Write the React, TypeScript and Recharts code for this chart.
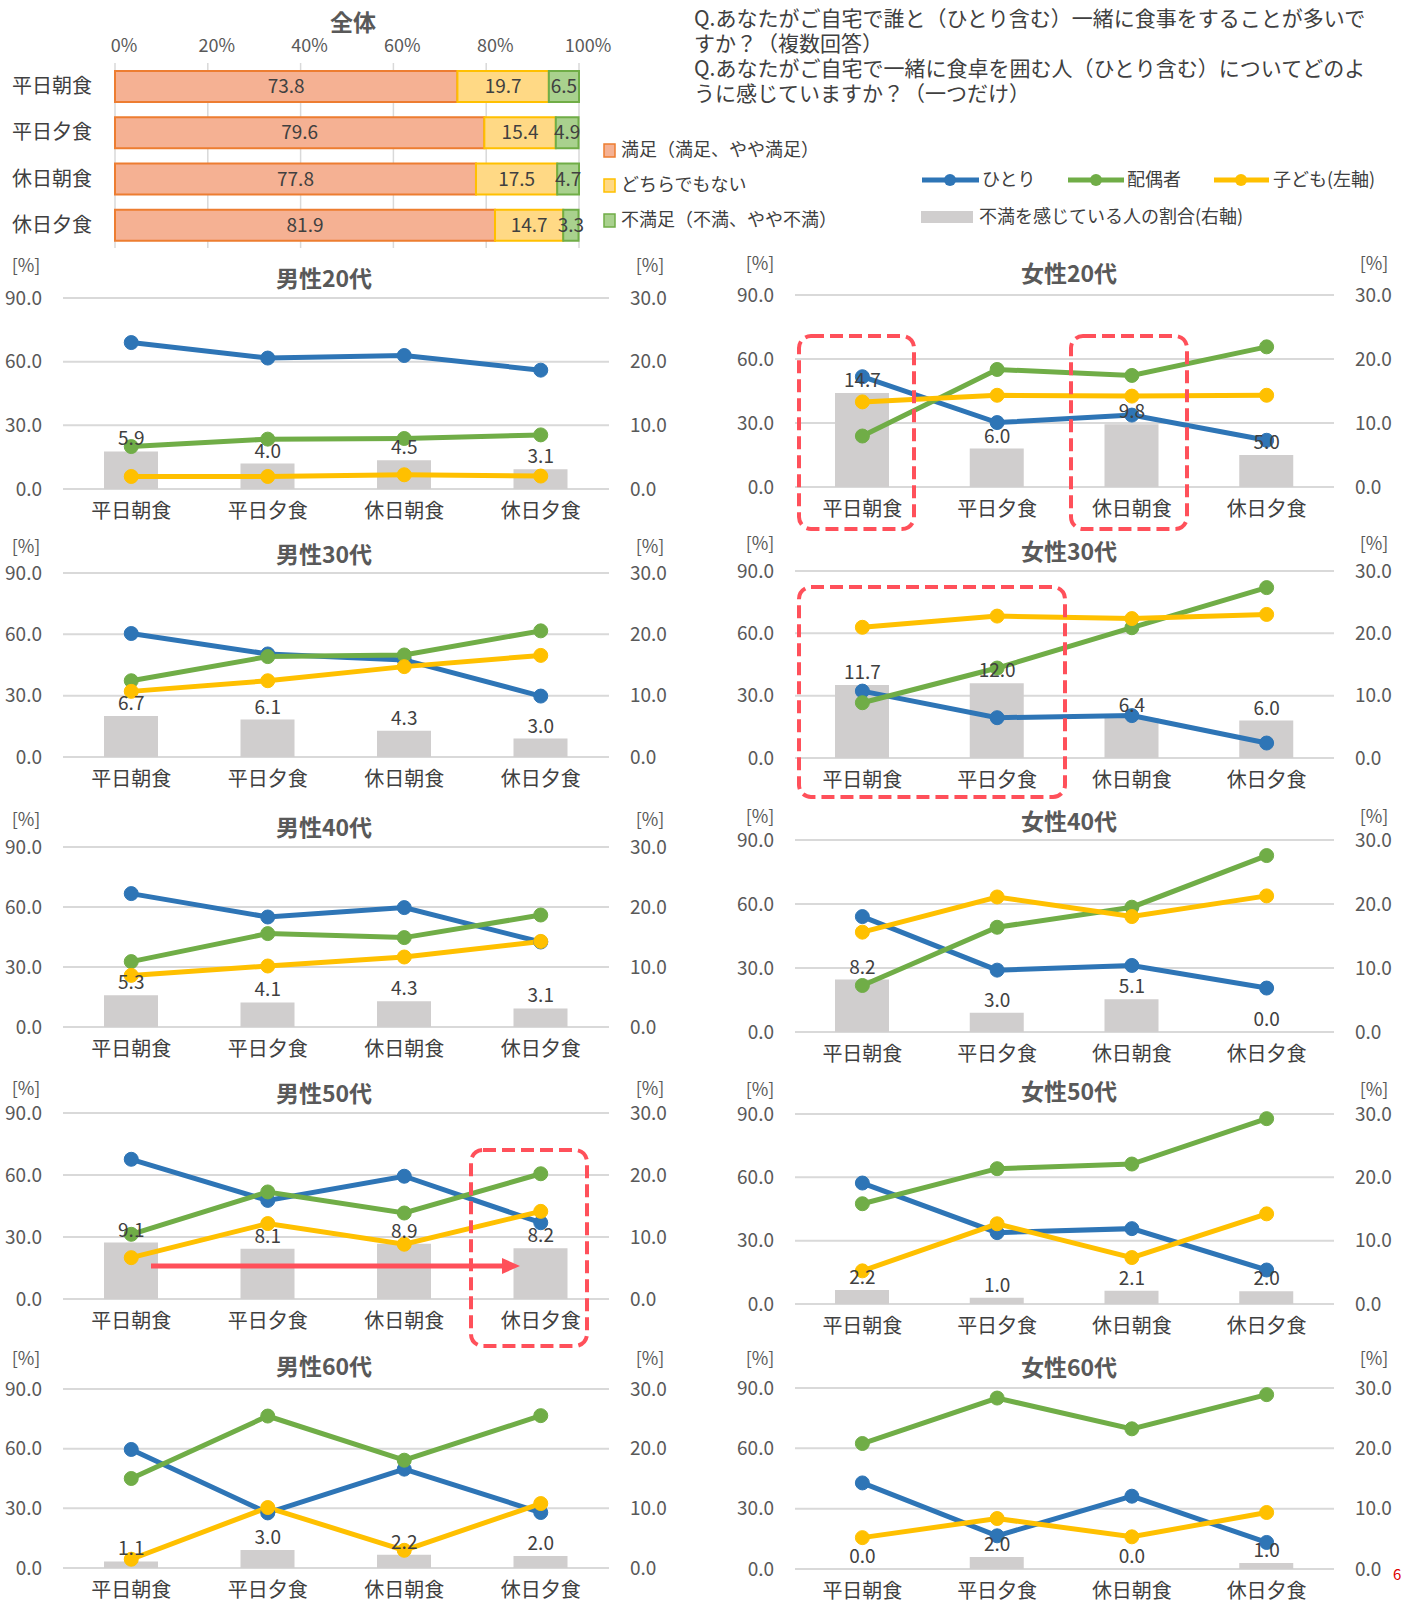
import React from "react";
import {
  ComposedChart,
  BarChart,
  Bar,
  Line,
  XAxis,
  YAxis,
  CartesianGrid,
  LabelList,
} from "recharts";

const meals = ["平日朝食", "平日夕食", "休日朝食", "休日夕食"];

// 全体（満足度）
const satisfied = [73.8, 79.6, 77.8, 81.9];
const neutral = [19.7, 15.4, 17.5, 14.7];
const dissatisfied = [6.5, 4.9, 4.7, 3.3];

// 男性
const m20Alone = [69.0, 61.7, 62.9, 56.0];
const m20Spouse = [20.0, 23.5, 23.8, 25.5];
const m20Child = [5.9, 5.9, 6.7, 6.1];
const m20Unhappy = [5.9, 4.0, 4.5, 3.1];

const m30Alone = [60.4, 50.4, 47.5, 29.8];
const m30Spouse = [37.3, 49.1, 49.9, 61.7];
const m30Child = [32.1, 37.3, 44.2, 49.7];
const m30Unhappy = [6.7, 6.1, 4.3, 3.0];

const m40Alone = [66.7, 55.0, 59.7, 42.5];
const m40Spouse = [32.7, 46.7, 44.7, 56.0];
const m40Child = [25.8, 30.5, 35.0, 42.8];
const m40Unhappy = [5.3, 4.1, 4.3, 3.1];

const m50Alone = [67.6, 47.7, 59.4, 36.9];
const m50Spouse = [31.3, 51.8, 41.6, 60.6];
const m50Child = [20.0, 36.5, 26.5, 42.4];
const m50Unhappy = [9.1, 8.1, 8.9, 8.2];

const m60Alone = [59.6, 27.7, 49.7, 27.9];
const m60Spouse = [45.0, 76.4, 54.2, 76.6];
const m60Child = [4.4, 30.4, 8.9, 32.4];
const m60Unhappy = [1.1, 3.0, 2.2, 2.0];

// 女性
const f20Alone = [51.7, 30.2, 33.7, 21.9];
const f20Spouse = [23.9, 55.1, 52.3, 65.7];
const f20Child = [39.9, 43.0, 42.6, 43.0];
const f20Unhappy = [14.7, 6.0, 9.8, 5.0];

const f30Alone = [32.2, 19.4, 20.4, 7.2];
const f30Spouse = [26.6, 43.3, 62.7, 82.0];
const f30Child = [62.9, 68.3, 67.1, 69.1];
const f30Unhappy = [11.7, 12.0, 6.4, 6.0];

const f40Alone = [54.1, 29.0, 31.2, 20.6];
const f40Spouse = [21.8, 49.1, 58.5, 82.7];
const f40Child = [46.8, 63.3, 54.1, 63.8];
const f40Unhappy = [8.2, 3.0, 5.1, 0.0];

const f50Alone = [57.3, 33.8, 35.7, 16.1];
const f50Spouse = [47.5, 64.1, 66.3, 87.8];
const f50Child = [15.7, 38.0, 22.0, 42.7];
const f50Unhappy = [2.2, 1.0, 2.1, 2.0];

const f60Alone = [42.8, 16.5, 36.2, 13.2];
const f60Spouse = [62.4, 85.0, 69.7, 86.7];
const f60Child = [15.6, 25.1, 16.0, 28.1];
const f60Unhappy = [0.0, 2.0, 0.0, 1.0];

const leftTicks = [0, 30, 60, 90];
const rightTicks = [0, 10, 20, 30];
const pctTicks = [0, 20, 40, 60, 80, 100];

const BLUE = "#2E75B6";
const GREEN = "#70AD47";
const YELLOW = "#FFC000";
const GRAY = "#D0CECE";
const TEXT = "#404040";
const AXIS = "#595959";
const RED = "#FF505A";
const FONT = '"Noto Sans CJK JP", "Noto Sans", sans-serif';

const toRows = (alone: number[], spouse: number[], child: number[], unhappy: number[]) =>
  meals.map((meal, i) => ({ meal, alone: alone[i], spouse: spouse[i], child: child[i], unhappy: unhappy[i] }));

const overallRows = meals.map((meal, i) => ({
  meal,
  satisfied: satisfied[i],
  neutral: neutral[i],
  dissatisfied: dissatisfied[i],
}));

const cols = [
  { left: 0, plotLeft: 63, plotRight: 609, titleX: 324, unitL: 26, unitR: 650 },
  { left: 704, plotLeft: 795, plotRight: 1334, titleX: 1069, unitL: 760, unitR: 1374 },
];

const panels = [
  { title: "男性20代", rows: toRows(m20Alone, m20Spouse, m20Child, m20Unhappy), col: 0, y90: 298, y0: 489, titleY: 277, unitY: 264 },
  { title: "女性20代", rows: toRows(f20Alone, f20Spouse, f20Child, f20Unhappy), col: 1, y90: 295, y0: 487, titleY: 272, unitY: 262 },
  { title: "男性30代", rows: toRows(m30Alone, m30Spouse, m30Child, m30Unhappy), col: 0, y90: 573, y0: 757, titleY: 553, unitY: 545 },
  { title: "女性30代", rows: toRows(f30Alone, f30Spouse, f30Child, f30Unhappy), col: 1, y90: 571, y0: 758, titleY: 550, unitY: 542 },
  { title: "男性40代", rows: toRows(m40Alone, m40Spouse, m40Child, m40Unhappy), col: 0, y90: 847, y0: 1027, titleY: 826, unitY: 818 },
  { title: "女性40代", rows: toRows(f40Alone, f40Spouse, f40Child, f40Unhappy), col: 1, y90: 840, y0: 1032, titleY: 820, unitY: 815 },
  { title: "男性50代", rows: toRows(m50Alone, m50Spouse, m50Child, m50Unhappy), col: 0, y90: 1113, y0: 1299, titleY: 1092, unitY: 1087 },
  { title: "女性50代", rows: toRows(f50Alone, f50Spouse, f50Child, f50Unhappy), col: 1, y90: 1114, y0: 1304, titleY: 1090, unitY: 1088 },
  { title: "男性60代", rows: toRows(m60Alone, m60Spouse, m60Child, m60Unhappy), col: 0, y90: 1389, y0: 1568, titleY: 1365, unitY: 1357 },
  { title: "女性60代", rows: toRows(f60Alone, f60Spouse, f60Child, f60Unhappy), col: 1, y90: 1388, y0: 1569, titleY: 1366, unitY: 1357 },
];

const fmt1 = (v: any) => Number(v).toFixed(1);

function Panel({ p }: { p: (typeof panels)[number] }) {
  const c = cols[p.col];
  const top = p.y90 - 20;
  const h = p.y0 - p.y90 + 60;
  const lineProps = (color: string) => ({
    yAxisId: "l",
    type: "linear" as const,
    stroke: color,
    strokeWidth: 5,
    dot: { r: 7, fill: color, stroke: color, strokeWidth: 1 },
    activeDot: false as const,
    isAnimationActive: false,
  });
  return (
    <>
      <div style={{ position: "absolute", left: c.left, top, width: 704, height: h }}>
        <ComposedChart width={704} height={h} data={p.rows} margin={{ top: 20, right: 0, bottom: 0, left: 0 }}>
          <CartesianGrid yAxisId="l" vertical={false} stroke="#D9D9D9" strokeWidth={2} />
          <XAxis
            dataKey="meal"
            height={40}
            axisLine={false}
            tickLine={false}
            tickSize={0}
            tickMargin={15}
            interval={0}
            tick={{ fill: TEXT, fontSize: 20 }}
          />
          <YAxis
            yAxisId="l"
            width={c.plotLeft - c.left}
            domain={[0, 90]}
            ticks={leftTicks}
            axisLine={false}
            tickLine={false}
            tickSize={0}
            tickMargin={21}
            tickFormatter={fmt1}
            tick={{ fill: AXIS, fontSize: 19 }}
          />
          <YAxis
            yAxisId="r"
            orientation="right"
            width={c.left + 704 - c.plotRight}
            domain={[0, 30]}
            ticks={rightTicks}
            axisLine={false}
            tickLine={false}
            tickSize={0}
            tickMargin={21}
            tickFormatter={fmt1}
            tick={{ fill: AXIS, fontSize: 19 }}
          />
          <Bar yAxisId="r" dataKey="unhappy" fill={GRAY} barSize={54} isAnimationActive={false} />
          {/* 棒の値ラベル（0.0 も表示するため透明な線に付ける） */}
          <Line
            yAxisId="r"
            dataKey="unhappy"
            stroke="none"
            dot={false}
            activeDot={false}
            legendType="none"
            isAnimationActive={false}
          >
            <LabelList dataKey="unhappy" position="top" offset={6} fill={TEXT} fontSize={19} formatter={fmt1} />
          </Line>
          <Line dataKey="alone" {...lineProps(BLUE)} />
          <Line dataKey="spouse" {...lineProps(GREEN)} />
          <Line dataKey="child" {...lineProps(YELLOW)} />
        </ComposedChart>
      </div>
      <div
        style={{
          position: "absolute",
          left: c.titleX,
          top: p.titleY,
          transform: "translate(-50%, -50%)",
          fontSize: 23,
          lineHeight: 1,
          fontWeight: 700,
          color: AXIS,
          whiteSpace: "nowrap",
        }}
      >
        {p.title}
      </div>
      {[c.unitL, c.unitR].map((x, i) => (
        <div
          key={i}
          style={{
            position: "absolute",
            left: x,
            top: p.unitY,
            transform: "translate(-50%, -50%)",
            fontSize: 18,
            lineHeight: 1,
            color: AXIS,
          }}
        >
          [%]
        </div>
      ))}
    </>
  );
}

function OverallChart() {
  return (
    <div style={{ position: "absolute", left: 0, top: 0, width: 630, height: 252 }}>
      <BarChart
        width={630}
        height={252}
        layout="vertical"
        data={overallRows}
        margin={{ top: 33, right: 51, bottom: 4, left: 0 }}
      >
        <CartesianGrid horizontal={false} stroke="#D9D9D9" strokeWidth={1.5} />
        <XAxis
          type="number"
          orientation="top"
          domain={[0, 100]}
          ticks={pctTicks}
          height={30}
          axisLine={false}
          tickLine={false}
          tickSize={0}
          tickMargin={11}
          interval={0}
          tickFormatter={(v: any) => `${v}%`}
          tick={{ fill: AXIS, fontSize: 18, dx: 9 }}
        />
        <YAxis
          type="category"
          dataKey="meal"
          width={115}
          axisLine={false}
          tickLine={false}
          tickSize={0}
          tickMargin={23}
          tick={{ fill: TEXT, fontSize: 20 }}
        />
        <Bar dataKey="satisfied" stackId="a" fill="#F5B193" stroke="#ED7D31" strokeWidth={2} barSize={31} isAnimationActive={false}>
          <LabelList dataKey="satisfied" position="center" fill={TEXT} fontSize={19} formatter={fmt1} />
        </Bar>
        <Bar dataKey="neutral" stackId="a" fill="#FFD985" stroke="#FFC000" strokeWidth={2} barSize={31} isAnimationActive={false}>
          <LabelList dataKey="neutral" position="center" fill={TEXT} fontSize={19} formatter={fmt1} />
        </Bar>
        <Bar dataKey="dissatisfied" stackId="a" fill="#A9D18E" stroke="#70AD47" strokeWidth={2} barSize={31} isAnimationActive={false}>
          <LabelList dataKey="dissatisfied" position="center" fill={TEXT} fontSize={19} formatter={fmt1} />
        </Bar>
      </BarChart>
    </div>
  );
}

const questionLines = [
  "Q.あなたがご自宅で誰と（ひとり含む）一緒に食事をすることが多いで",
  "すか？（複数回答）",
  "Q.あなたがご自宅で一緒に食卓を囲む人（ひとり含む）についてどのよ",
  "うに感じていますか？（一つだけ）",
];

function Overlay() {
  const dash = { fill: "none", stroke: RED, strokeWidth: 4, strokeDasharray: "13 6" };
  return (
    <svg
      width={1408}
      height={1602}
      style={{ position: "absolute", left: 0, top: 0, pointerEvents: "none", fontFamily: FONT }}
    >
      {/* 満足度の凡例 */}
      <rect x={604} y={144} width={11} height={13} fill="#F5B193" stroke="#ED7D31" strokeWidth={1.5} />
      <rect x={604} y={179} width={11} height={13} fill="#FFD985" stroke="#FFC000" strokeWidth={1.5} />
      <rect x={604} y={214} width={11} height={13} fill="#A9D18E" stroke="#70AD47" strokeWidth={1.5} />
      <text x={621} y={156} fontSize={18} fill={TEXT}>満足（満足、やや満足）</text>
      <text x={621} y={191} fontSize={18} fill={TEXT}>どちらでもない</text>
      <text x={621} y={226} fontSize={18} fill={TEXT}>不満足（不満、やや不満）</text>

      {/* 折れ線の凡例 */}
      <line x1={922} x2={979} y1={180} y2={180} stroke={BLUE} strokeWidth={5} />
      <circle cx={950} cy={180} r={6} fill={BLUE} />
      <text x={982} y={186} fontSize={18} fill={TEXT}>ひとり</text>
      <line x1={1068} x2={1124} y1={180} y2={180} stroke={GREEN} strokeWidth={5} />
      <circle cx={1096} cy={180} r={6} fill={GREEN} />
      <text x={1127} y={186} fontSize={18} fill={TEXT}>配偶者</text>
      <line x1={1214} x2={1269} y1={180} y2={180} stroke={YELLOW} strokeWidth={5} />
      <circle cx={1241} cy={180} r={6} fill={YELLOW} />
      <text x={1273} y={186} fontSize={18} fill={TEXT}>子ども(左軸)</text>
      <rect x={921} y={211} width={52} height={12} fill={GRAY} />
      <text x={979} y={223} fontSize={18} fill={TEXT}>不満を感じている人の割合(右軸)</text>

      {/* 強調枠 */}
      <rect x={799} y={336} width={115} height={193} rx={12} {...dash} />
      <rect x={1071} y={336} width={116} height={193} rx={12} {...dash} />
      <rect x={799} y={587} width={266} height={210} rx={12} {...dash} />
      <rect x={471} y={1150} width={116} height={196} rx={12} {...dash} />

      {/* 矢印 */}
      <line x1={151} x2={504} y1={1266} y2={1266} stroke={RED} strokeWidth={5} />
      <polygon points="502,1258 520,1266 502,1274" fill={RED} />

      <text x={1393} y={1580} fontSize={15} fill="#E00000">6</text>
    </svg>
  );
}

export default function App() {
  return (
    <div
      style={{
        position: "absolute",
        left: 0,
        top: 0,
        width: 1408,
        height: 1602,
        overflow: "hidden",
        background: "#FFFFFF",
        fontFamily: FONT,
      }}
    >
      <div
        style={{
          position: "absolute",
          left: 353,
          top: 21,
          transform: "translate(-50%, -50%)",
          fontSize: 23,
          lineHeight: 1,
          fontWeight: 700,
          color: AXIS,
        }}
      >
        全体
      </div>
      <OverallChart />
      <div
        style={{
          position: "absolute",
          left: 694,
          top: 5,
          fontSize: 21,
          lineHeight: "25px",
          color: TEXT,
          whiteSpace: "nowrap",
        }}
      >
        {questionLines.map((line, i) => (
          <React.Fragment key={i}>
            {i > 0 && <br />}
            {line}
          </React.Fragment>
        ))}
      </div>
      {panels.map((p) => (
        <Panel key={p.title} p={p} />
      ))}
      <Overlay />
    </div>
  );
}
